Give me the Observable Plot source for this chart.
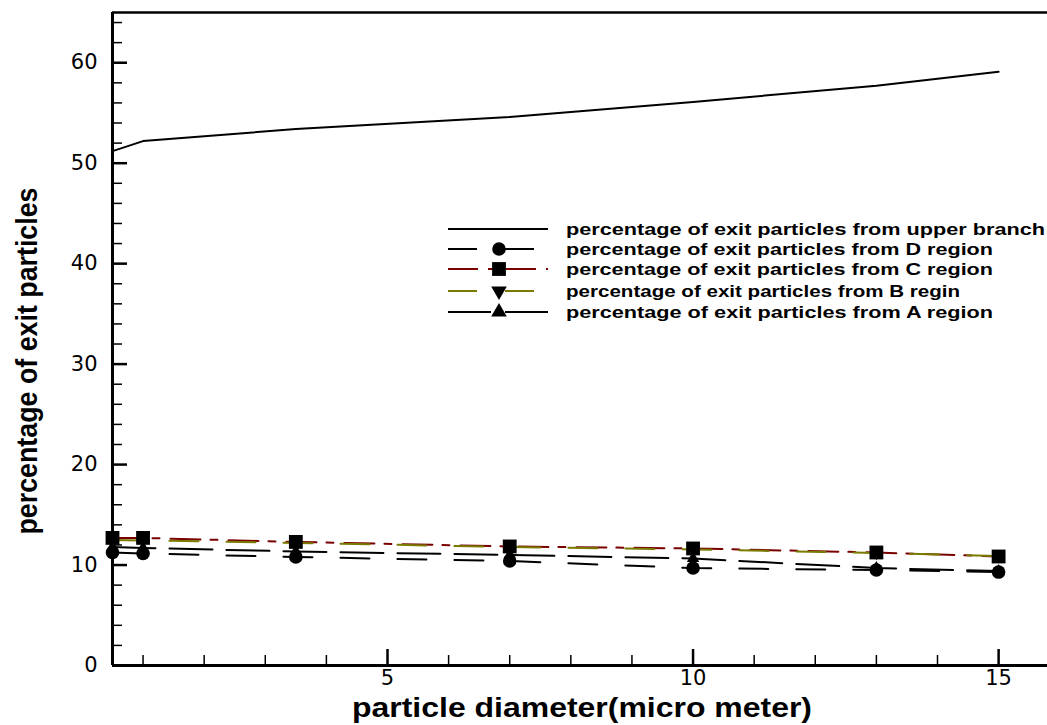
<!DOCTYPE html>
<html><head><meta charset="utf-8">
<script src="https://cdn.jsdelivr.net/npm/d3@7"></script>
<script src="https://cdn.jsdelivr.net/npm/@observablehq/plot@0.6"></script>
<style>body{margin:0;background:#fff}</style>
</head><body><div id="chart"></div>
<script>
// ---- data ----
const diameters   = [0.5, 1, 3.5, 7, 10, 13, 15];
const upperBranch = [51.2, 52.2, 53.4, 54.6, 56.1, 57.7, 59.1];
const regionD     = [11.25, 11.15, 10.8, 10.4, 9.7, 9.5, 9.3];
const regionC     = [12.7, 12.7, 12.3, 11.85, 11.65, 11.25, 10.85];
const regionB     = [12.5, 12.45, 12.2, 11.8, 11.55, 11.2, 10.9];
const regionA     = [11.8, 11.7, 11.35, 11.0, 10.65, 9.7, 9.4];
const xMajorTicks = [5, 10, 15];
const xMinorTicks = [1, 2, 3, 4, 6, 7, 8, 9, 11, 12, 13, 14];
const yMajorTicks = [0, 10, 20, 30, 40, 50, 60];
const yMinorTicks = [2, 4, 6, 8, 12, 14, 16, 18, 22, 24, 26, 28, 32, 34, 36, 38, 42, 44, 46, 48, 52, 54, 56, 58, 62, 64];
const legendLabels = [
  "percentage of exit particles from upper branch",
  "percentage of exit particles from D region",
  "percentage of exit particles from C region",
  "percentage of exit particles from B regin",
  "percentage of exit particles from A region"
];
const xLabel = "particle diameter(micro meter)";
const yLabel = "percentage of exit particles";

// ---- styling ----
const W = 1047, H = 725, mL = 112, mR = 0, mT = 12, mB = 60;
const innerW = W - mL - mR, innerH = H - mT - mB;
const series = [
  {values: upperBranch, color: "#000", dash: null, symbol: null},
  {values: regionD, color: "#000", dash: "29,28", symbol: "circle", r: 6.8},
  {values: regionC, color: "#7a0000", dash: "30,10,7,11", symbol: "square", r: 7.8},
  {values: regionB, color: "#7a7a00", dash: "29,28", symbol: "triangle", rotate: 180, r: 4.6},
  {values: regionA, color: "#000", dash: "43,14", symbol: "triangle", rotate: 0, r: 4.6}
];
const legendWidths = [479, 427, 427, 394, 427];
const rows = vals => diameters.map((d, i) => ({x: d, y: vals[i]}));

const lineMarks = series.map(s => Plot.line(rows(s.values), {
  x: "x", y: "y", stroke: s.color, strokeWidth: 2, strokeDasharray: s.dash ?? undefined
}));
// draw triangles first, then squares, then circles
const dotOrder = [4, 3, 2, 1];
const dotMarks = dotOrder.map(i => {
  const s = series[i];
  return Plot.dot(rows(s.values), {
    x: "x", y: "y", symbol: s.symbol, r: s.r, fill: "#000", stroke: "none", rotate: s.rotate ?? 0
  });
});

const tickFont = "'DejaVu Sans', 'Liberation Sans', sans-serif";
const chart = Plot.plot({
  width: W, height: H,
  marginLeft: mL, marginRight: mR, marginTop: mT, marginBottom: mB,
  x: {domain: [0.5, 15.8]},
  y: {domain: [0, 65]},
  style: {fontFamily: tickFont, fontSize: "21px", color: "#000", background: "#fff", overflow: "visible"},
  marks: [
    Plot.axisX({ticks: xMajorTicks, tickSize: 0, tickPadding: 5, label: null}),
    Plot.axisY({ticks: yMajorTicks, tickSize: 0, tickPadding: 15, label: null}),
    Plot.tickX(xMajorTicks, {x: d => d, insetTop: innerH - 16, strokeWidth: 2.5}),
    Plot.tickX(xMinorTicks, {x: d => d, insetTop: innerH - 10, strokeWidth: 1.5}),
    Plot.tickY(yMajorTicks, {y: d => d, insetRight: innerW - 15, strokeWidth: 2.5}),
    Plot.tickY(yMinorTicks, {y: d => d, insetRight: innerW - 10, strokeWidth: 1.5}),
    ...lineMarks,
    ...dotMarks,
    Plot.ruleX([0.5], {strokeWidth: 3}),
    Plot.ruleY([0], {strokeWidth: 3}),
    Plot.ruleY([65], {strokeWidth: 2.5})
  ]
});
document.getElementById("chart").appendChild(chart);

// ---- labels & legend ----
const labelFont = "'Liberation Sans', Arial, sans-serif";
const svg = d3.select(chart);
svg.append("text")
  .attr("x", 582).attr("y", 717)
  .attr("text-anchor", "middle")
  .attr("font-family", labelFont)
  .attr("font-weight", "bold").attr("font-size", 27)
  .attr("textLength", 460).attr("lengthAdjust", "spacingAndGlyphs")
  .text(xLabel);
svg.append("text")
  .attr("transform", "translate(37,361) rotate(-90)")
  .attr("text-anchor", "middle")
  .attr("font-family", labelFont)
  .attr("font-weight", "bold").attr("font-size", 29)
  .attr("textLength", 347).attr("lengthAdjust", "spacingAndGlyphs")
  .text(yLabel);

const legendY = [229, 249, 269, 291, 312];
const lg = svg.append("g");
series.forEach((s, i) => {
  const y = legendY[i];
  lg.append("line").attr("x1", 448).attr("x2", 548).attr("y1", y).attr("y2", y)
    .attr("stroke", s.color).attr("stroke-width", 2)
    .attr("stroke-dasharray", s.dash);
  if (s.symbol) {
    const sym = {circle: d3.symbolCircle, square: d3.symbolSquare, triangle: d3.symbolTriangle}[s.symbol];
    const rr = s.symbol === "triangle" ? 5.8 : s.r;
    lg.append("path")
      .attr("d", d3.symbol(sym, Math.PI * rr * rr)())
      .attr("transform", `translate(499,${y}) rotate(${s.rotate ?? 0})`)
      .attr("fill", "#000");
  }
  lg.append("text").attr("x", 566).attr("y", y + 6)
    .attr("text-anchor", "start")
    .attr("font-family", labelFont)
    .attr("font-weight", "bold").attr("font-size", 17)
    .attr("textLength", legendWidths[i]).attr("lengthAdjust", "spacingAndGlyphs")
    .text(legendLabels[i]);
});
</script>
</body></html>
